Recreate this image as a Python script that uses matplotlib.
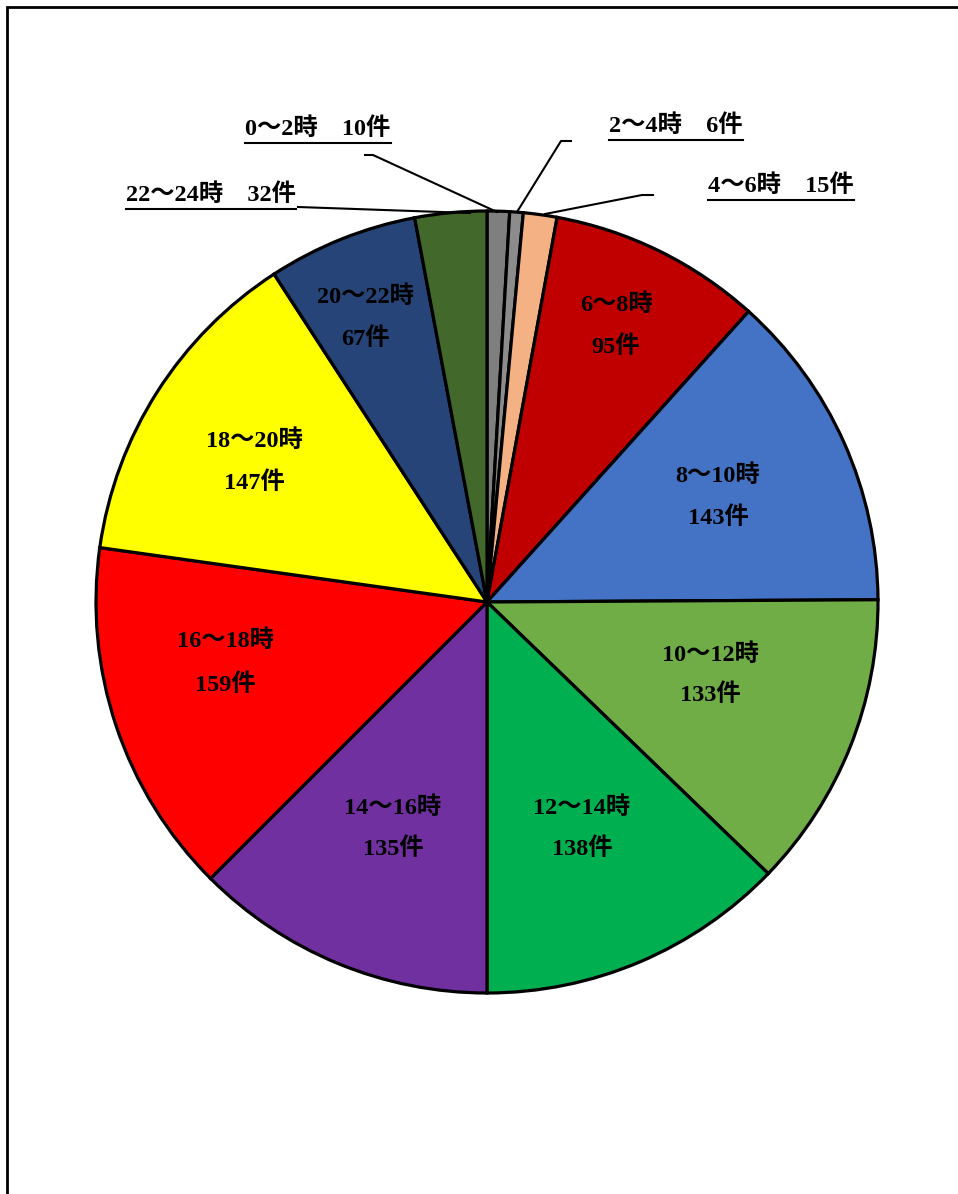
import matplotlib
matplotlib.use("Agg")
import matplotlib.pyplot as plt
from matplotlib.patches import Rectangle

plt.rcParams['font.family'] = ['Liberation Serif', 'Noto Sans CJK JP']

hours = ['0～2時', '2～4時', '4～6時', '6～8時', '8～10時', '10～12時',
         '12～14時', '14～16時', '16～18時', '18～20時', '20～22時', '22～24時']
counts = [10, 6, 15, 95, 143, 133, 138, 135, 159, 147, 67, 32]
colors = ['#7f7f7f', '#8c8c8c', '#f4b183', '#c00000', '#4472c4', '#70ad47',
          '#00b050', '#7030a0', '#ff0000', '#ffff00', '#264478', '#43682b']

W, H = 958, 1194
fig = plt.figure(figsize=(W / 100, H / 100), dpi=100)
ax = fig.add_axes([0, 0, 1, 1])
Y = lambda y: H - y  # pixel y (top-down) -> data y

# frame (right/bottom edges run off the picture)
ax.add_patch(Rectangle((7, Y(1200)), 1000, 1193, fill=False, ec='black', lw=2))

cx, cy, r = 487, 602, 391
ax.pie(counts, colors=colors, startangle=90, counterclock=False,
       center=(cx, Y(cy)), radius=r, frame=True,
       wedgeprops=dict(edgecolor='black', linewidth=2.3))
ax.set_xlim(0, W); ax.set_ylim(0, H); ax.set_aspect('equal'); ax.axis('off')

FS = 17.5
# labels inside big wedges: (x, y_top, y_bottom) in pixels
inside = {3: (616, 305, 347), 4: (718, 476, 518), 5: (710, 655, 695),
          6: (582, 808, 849), 7: (393, 808, 849), 8: (225, 641, 685),
          9: (254, 441, 483), 10: (365, 297, 339)}
for i, (x, y1, y2) in inside.items():
    ax.text(x, Y(y1), hours[i], ha='center', va='center', fontsize=FS, fontweight='bold')
    ax.text(x, Y(y2), f'{counts[i]}件', ha='center', va='center', fontsize=FS, fontweight='bold')

# outside labels with leader lines
outside = [
    (0, (318, 129), [(365, 155), (373, 155), (497, 212)]),
    (1, (676, 126), [(571, 141), (561, 141), (517, 212)]),
    (2, (781, 186), [(653, 195), (642, 195), (545, 214)]),
    (11, (211, 195), [(298, 207), (470, 213)]),
]
fig.canvas.draw()
for i, (tx, ty), pts in outside:
    t = ax.text(tx, Y(ty), f'{hours[i]}　{counts[i]}件', ha='center', va='center',
                fontsize=FS, fontweight='bold')
    fig.canvas.draw()
    bb = t.get_window_extent().transformed(ax.transData.inverted())
    ax.plot([bb.x0, bb.x1], [Y(ty + 14)] * 2, color='black', lw=1.5)
    ax.plot([p[0] for p in pts], [Y(p[1]) for p in pts], color='black', lw=1.5)

fig.savefig('out.png', dpi=100)
